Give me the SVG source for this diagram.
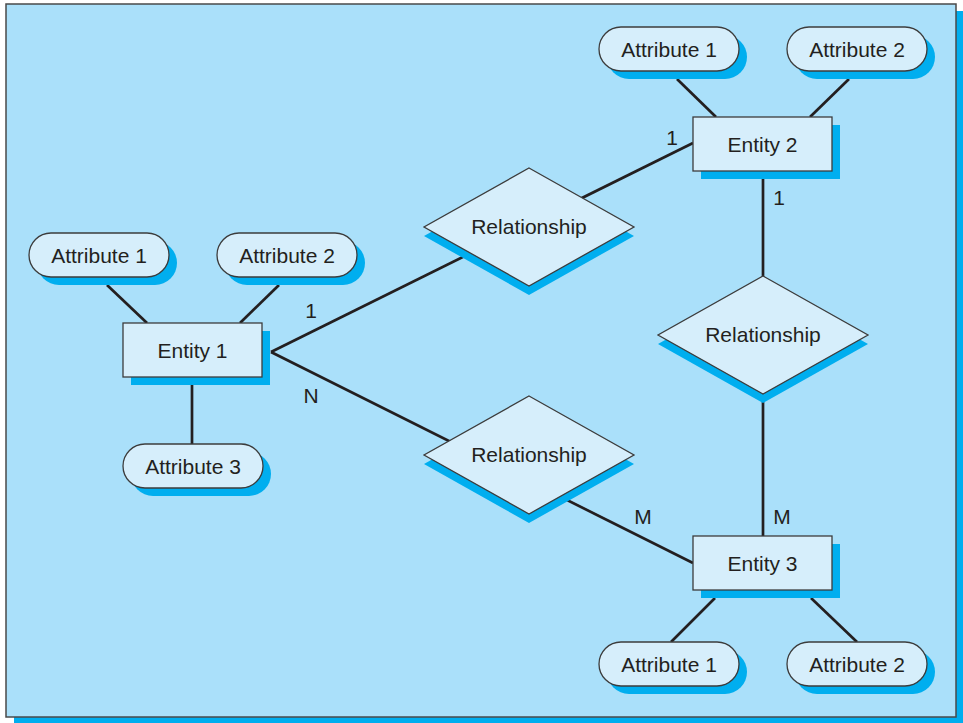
<svg xmlns="http://www.w3.org/2000/svg" width="963" height="723" viewBox="0 0 963 723">
  <style>
    .frame { fill: #AAE0FA; stroke: #4a4a4a; stroke-width: 1.5; }
    .shadow { fill: #00AEEF; stroke: none; }
    .box { fill: #D6EEFB; stroke: #3c3c3c; stroke-width: 1.3; }
    .edge { stroke: #231F20; stroke-width: 2.7; fill: none; }
    text { font-family: "Liberation Sans", Arial, Helvetica, sans-serif; font-size: 21px; fill: #231F20; text-anchor: middle; }
  </style>
  <defs>
    <rect id="pill" x="0" y="0" width="140" height="44" rx="22" ry="22"/>
    <rect id="ent" x="0" y="0" width="139" height="54"/>
    <polygon id="dia" points="0,-59 105,0 0,59 -105,0"/>
  </defs>

  <!-- panel background with drop shadow -->
  <rect class="shadow" x="14" y="11" width="949" height="712"/>
  <rect class="frame" x="6" y="4" width="950" height="713"/>

  <!-- connectors -->
  <g id="connectors">
    <line class="edge" x1="107" y1="285" x2="147" y2="323"/>
    <line class="edge" x1="279" y1="285" x2="240" y2="323"/>
    <line class="edge" x1="192" y1="377" x2="192" y2="444"/>
    <line class="edge" x1="677" y1="79" x2="716" y2="117"/>
    <line class="edge" x1="849" y1="79" x2="810" y2="117"/>
    <line class="edge" x1="715" y1="598" x2="671" y2="642"/>
    <line class="edge" x1="811" y1="598" x2="857" y2="642"/>
    <line class="edge" x1="271" y1="352" x2="693" y2="143"/>
    <line class="edge" x1="271" y1="352" x2="693" y2="563"/>
    <line class="edge" x1="763" y1="178" x2="763" y2="536"/>
  </g>

  <!-- cardinality labels -->
  <g id="labels">
    <text x="311" y="318">1</text>
    <text x="311" y="403">N</text>
    <text x="672" y="145">1</text>
    <text x="779" y="205">1</text>
    <text x="643" y="524">M</text>
    <text x="782" y="524">M</text>
  </g>

  <!-- entities -->
  <g id="entity1">
    <use href="#ent" class="shadow" x="131" y="331"/>
    <use href="#ent" class="box" x="123" y="323"/>
    <text x="192.5" y="358">Entity 1</text>
  </g>
  <g id="entity2">
    <use href="#ent" class="shadow" x="701" y="125"/>
    <use href="#ent" class="box" x="693" y="117"/>
    <text x="762.5" y="152">Entity 2</text>
  </g>
  <g id="entity3">
    <use href="#ent" class="shadow" x="701" y="544"/>
    <use href="#ent" class="box" x="693" y="536"/>
    <text x="762.5" y="571">Entity 3</text>
  </g>

  <!-- relationships -->
  <g id="rel-top">
    <use href="#dia" class="shadow" x="529" y="236"/>
    <use href="#dia" class="box" x="529" y="227"/>
    <text x="529" y="234">Relationship</text>
  </g>
  <g id="rel-right">
    <use href="#dia" class="shadow" x="763" y="344"/>
    <use href="#dia" class="box" x="763" y="335"/>
    <text x="763" y="342">Relationship</text>
  </g>
  <g id="rel-bottom">
    <use href="#dia" class="shadow" x="529" y="464"/>
    <use href="#dia" class="box" x="529" y="455"/>
    <text x="529" y="462">Relationship</text>
  </g>

  <!-- attributes of Entity 1 -->
  <g id="e1-attr1">
    <use href="#pill" class="shadow" x="37" y="241"/>
    <use href="#pill" class="box" x="29" y="233"/>
    <text x="99" y="263">Attribute 1</text>
  </g>
  <g id="e1-attr2">
    <use href="#pill" class="shadow" x="225" y="241"/>
    <use href="#pill" class="box" x="217" y="233"/>
    <text x="287" y="263">Attribute 2</text>
  </g>
  <g id="e1-attr3">
    <use href="#pill" class="shadow" x="131" y="452"/>
    <use href="#pill" class="box" x="123" y="444"/>
    <text x="193" y="474">Attribute 3</text>
  </g>

  <!-- attributes of Entity 2 -->
  <g id="e2-attr1">
    <use href="#pill" class="shadow" x="607" y="35"/>
    <use href="#pill" class="box" x="599" y="27"/>
    <text x="669" y="57">Attribute 1</text>
  </g>
  <g id="e2-attr2">
    <use href="#pill" class="shadow" x="795" y="35"/>
    <use href="#pill" class="box" x="787" y="27"/>
    <text x="857" y="57">Attribute 2</text>
  </g>

  <!-- attributes of Entity 3 -->
  <g id="e3-attr1">
    <use href="#pill" class="shadow" x="607" y="650"/>
    <use href="#pill" class="box" x="599" y="642"/>
    <text x="669" y="672">Attribute 1</text>
  </g>
  <g id="e3-attr2">
    <use href="#pill" class="shadow" x="795" y="650"/>
    <use href="#pill" class="box" x="787" y="642"/>
    <text x="857" y="672">Attribute 2</text>
  </g>
</svg>
